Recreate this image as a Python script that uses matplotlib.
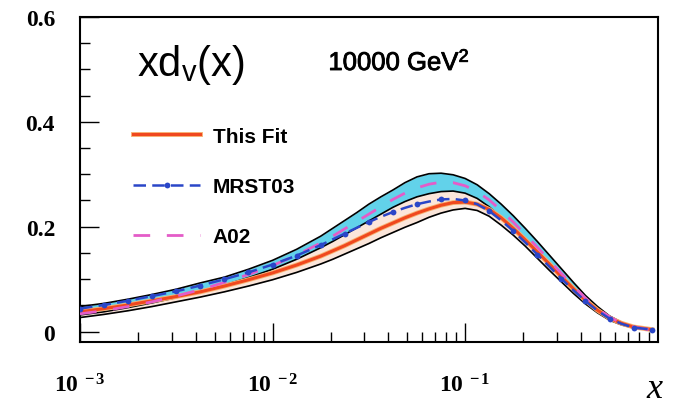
import numpy as np
import matplotlib
matplotlib.use("Agg")
import matplotlib.pyplot as plt
import matplotlib.patheffects as pe
from matplotlib.ticker import FixedLocator, LogLocator, NullFormatter, MultipleLocator

# ---- data ----
logx = [-3.0, -2.875, -2.75, -2.625, -2.5, -2.375, -2.25, -2.125, -2.0, -1.875,
        -1.75, -1.6875, -1.625, -1.5625, -1.5, -1.4375, -1.375, -1.3125, -1.25, -1.1875,
        -1.125, -1.0625, -1.0, -0.9375, -0.875, -0.8125, -0.75, -0.6875, -0.625, -0.5625,
        -0.5, -0.4375, -0.375, -0.3125, -0.25, -0.1875, -0.125, -0.03]

fit = [0.038, 0.044, 0.051, 0.059, 0.067, 0.076, 0.087, 0.099, 0.112, 0.127,
       0.144, 0.154, 0.164, 0.175, 0.186, 0.197, 0.207, 0.217, 0.226, 0.234,
       0.241, 0.246, 0.247, 0.243, 0.233, 0.217, 0.197, 0.175, 0.152, 0.129,
       0.105, 0.082, 0.060, 0.041, 0.026, 0.016, 0.009, 0.004]
fit_lo = [0.027, 0.033, 0.040, 0.048, 0.057, 0.066, 0.076, 0.087, 0.099, 0.113,
          0.129, 0.138, 0.148, 0.158, 0.168, 0.179, 0.189, 0.199, 0.208, 0.218,
          0.226, 0.232, 0.235, 0.231, 0.220, 0.203, 0.184, 0.163, 0.140, 0.117,
          0.095, 0.073, 0.053, 0.036, 0.022, 0.013, 0.007, 0.003]
fit_hi = [0.032, 0.038, 0.046, 0.055, 0.065, 0.076, 0.089, 0.103, 0.119, 0.138,
          0.160, 0.172, 0.185, 0.198, 0.211, 0.224, 0.237, 0.248, 0.257, 0.263,
          0.267, 0.268, 0.264, 0.254, 0.238, 0.217, 0.195, 0.172, 0.150, 0.127,
          0.104, 0.082, 0.061, 0.042, 0.027, 0.016, 0.009, 0.004]

mrst = [0.044, 0.051, 0.059, 0.068, 0.077, 0.088, 0.100, 0.113, 0.128, 0.145,
        0.165, 0.176, 0.187, 0.198, 0.209, 0.219, 0.228, 0.236, 0.243, 0.248,
        0.252, 0.253, 0.250, 0.243, 0.230, 0.212, 0.192, 0.170, 0.147, 0.124,
        0.101, 0.079, 0.058, 0.040, 0.025, 0.015, 0.008, 0.004]

a02 = [0.034, 0.040, 0.048, 0.057, 0.068, 0.080, 0.094, 0.109, 0.126, 0.146,
       0.169, 0.182, 0.196, 0.210, 0.224, 0.238, 0.252, 0.264, 0.274, 0.281,
       0.285, 0.284, 0.278, 0.267, 0.251, 0.231, 0.209, 0.185, 0.161, 0.136,
       0.111, 0.087, 0.064, 0.044, 0.028, 0.016, 0.009, 0.003]
a02_hi = [0.048, 0.054, 0.062, 0.071, 0.081, 0.093, 0.104, 0.119, 0.136, 0.157,
          0.182, 0.197, 0.212, 0.227, 0.243, 0.257, 0.270, 0.284, 0.295, 0.301,
          0.302, 0.299, 0.292, 0.280, 0.263, 0.243, 0.221, 0.197, 0.172, 0.146,
          0.120, 0.094, 0.069, 0.048, 0.030, 0.018, 0.010, 0.004]

xtick_vals = [1e-3, 1e-2, 1e-1]
xtick_labels = [r"$\mathbf{10^{\ -3}}$", r"$\mathbf{10^{\ -2}}$", r"$\mathbf{10^{\ -1}}$"]
ytick_vals = [0.0, 0.2, 0.4, 0.6]
ytick_labels = ["0", "0.2", "0.4", "0.6"]

x = 10.0 ** np.array(logx)

plt.rcParams["mathtext.fontset"] = "custom"
plt.rcParams["mathtext.rm"] = "Liberation Serif"
plt.rcParams["mathtext.bf"] = "Liberation Serif:bold"
plt.rcParams["mathtext.it"] = "Liberation Serif:italic"

fig = plt.figure(figsize=(6.78, 4.14), dpi=100)
ax = fig.add_axes([0.118, 0.171, 0.852, 0.786])

# bands
ax.fill_between(x, fit_hi, a02_hi, color="#62d2ea", lw=0, zorder=1)
ax.fill_between(x, fit_lo, fit_hi, color="#fbe6da", lw=0, zorder=1.5)
for arr in (fit_lo, fit_hi, a02_hi):
    ax.plot(x, arr, color="black", lw=1.2, zorder=2)

ax.plot(x, fit, color="#f0481e", lw=2.2, zorder=3, label="This Fit",
        path_effects=[pe.Stroke(linewidth=3.5, foreground="#f8b070"), pe.Normal()])
ax.plot(x, a02, color="#e45cc8", lw=2.0, ls=(0, (6, 6)), zorder=4, label="A02")
mark_idx = list(range(0, 11)) + list(range(12, 37, 2)) + [37]
ax.plot(x, mrst, color="#2a46c8", lw=1.8, ls=(0, (5, 2.5)), marker="o", ms=4.2,
        markeredgewidth=0, markevery=mark_idx, zorder=5, label="MRST03")

ax.set_xscale("log")
ax.set_xlim(1e-3, 1.0)
ax.set_ylim(-0.02, 0.6)

ax.xaxis.set_major_locator(FixedLocator(xtick_vals))
ax.xaxis.set_minor_locator(LogLocator(base=10, subs=np.arange(2, 10)))
ax.xaxis.set_minor_formatter(NullFormatter())
ax.set_xticks(xtick_vals)
ax.set_xticklabels(xtick_labels, fontsize=17)
ax.yaxis.set_major_locator(FixedLocator(ytick_vals))
ax.yaxis.set_minor_locator(MultipleLocator(0.05))
ax.set_yticklabels(ytick_labels, family="Liberation Serif", fontweight="bold", fontsize=17)

ax.tick_params(axis="both", which="major", direction="in", length=14, width=1.0,
               top=False, right=False)
ax.tick_params(axis="both", which="minor", direction="in", length=7, width=1.0,
               top=False, right=False)
ax.tick_params(axis="x", which="major", pad=22)
ax.tick_params(axis="y", which="major", pad=18)
for s in ax.spines.values():
    s.set_linewidth(1.5)

ax.text(0.098, 0.855, r"xd$_{\mathregular{v}}$(x)", transform=ax.transAxes,
        family="Liberation Sans", fontsize=30, va="center")
ax.text(0.43, 0.86, r"10000 GeV$^{\mathregular{2}}$", transform=ax.transAxes,
        family="Liberation Sans", fontsize=18.5, va="center",
        path_effects=[pe.withStroke(linewidth=0.6, foreground="black")])

fig.text(0.965, 0.06, "x", family="Liberation Serif", style="italic", fontsize=26,
         ha="center", va="center")

h, l = ax.get_legend_handles_labels()
order = [0, 2, 1]
leg = ax.legend([h[i] for i in order], [l[i] for i in order], loc="upper left",
                bbox_to_anchor=(0.06, 0.72), frameon=False, handlelength=3.2,
                labelspacing=1.5, handletextpad=0.6,
                prop={"family": "Liberation Sans", "weight": "bold", "size": 15})

fig.savefig("out.png", dpi=100)
